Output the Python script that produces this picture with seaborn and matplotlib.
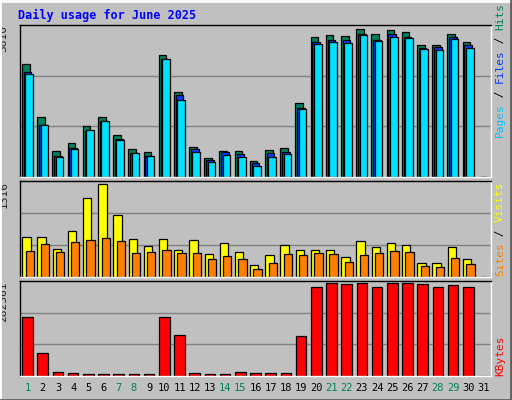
import numpy as np
import matplotlib
matplotlib.use("Agg")
import matplotlib.pyplot as plt
import seaborn as sns

days = list(range(1, 32))
hits = [2830, 1516, 662, 862, 1290, 1516, 1063, 712, 636, 3048, 2119, 762, 486, 662, 662,
        410, 687, 737, 1867, 3500, 3551, 3525, 3701, 3576, 3676, 3626, 3299, 3299, 3576, 3375, 0]
files = [2621, 1315, 519, 737, 1164, 1415, 963, 611, 536, 2948, 2043, 712, 435, 636, 586,
         360, 611, 636, 1742, 3375, 3425, 3425, 3576, 3425, 3576, 3500, 3224, 3249, 3500, 3299, 0]
pages = [2571, 1315, 494, 712, 1189, 1415, 938, 611, 536, 2948, 1918, 636, 385, 561, 511,
         285, 511, 586, 1692, 3324, 3375, 3350, 3551, 3400, 3500, 3475, 3199, 3174, 3450, 3224, 0]
sites = [554, 554, 388, 637, 1081, 1275, 845, 527, 430, 527, 374, 513, 319, 471, 346,
         166, 305, 443, 374, 374, 374, 277, 499, 416, 471, 443, 194, 194, 416, 249, 0]
visits = [360, 457, 346, 485, 513, 540, 499, 333, 346, 374, 333, 333, 249, 291, 249,
          111, 194, 319, 305, 333, 319, 208, 305, 333, 360, 346, 152, 139, 263, 180, 0]
kbytes = [175900, 67300, 13000, 10000, 7000, 7000, 7000, 7000, 7000, 175900, 121600, 10000,
          7000, 7000, 13000, 10000, 10000, 10000, 118600, 266000, 275000, 272000, 275000,
          266000, 275000, 275000, 272000, 266000, 269000, 266000, 0]
weekends = [1, 7, 8, 14, 15, 21, 22, 28, 29]
max_hits, max_sites, max_kb = 3810, 1316, 282361

sns.set_style("white")
plt.rcParams['font.family'] = ['DejaVu Sans Mono']

W, H = 512, 400
fig = plt.figure(figsize=(W / 100, H / 100), dpi=100, facecolor="#c0c0c0")
mono = "DejaVu Sans Mono"


def px_axes(x0, y0, x1, y1):
    return fig.add_axes([x0 / W, 1 - y1 / H, (x1 - x0) / W, (y1 - y0) / H])


def draw_bars(ax, vals, off, width, color):
    x = np.array(days, dtype=float) + off
    sns.barplot(x=x, y=vals, native_scale=True, width=width, color=color,
                edgecolor="black", linewidth=0.9, ax=ax, saturation=1)


def style_panel(ax, ymax, label):
    ax.set_facecolor("#c0c0c0")
    ax.set_xlim(0.5, 31.5)
    ax.set_ylim(0, ymax)
    for frac in (1 / 3, 2 / 3):
        ax.axhline(ymax * frac, color="#808080", lw=1, zorder=0)
    ax.set_xticks([])
    ax.set_yticks([])
    ax.set_xlabel("")
    ax.set_ylabel("")
    ax.spines["top"].set_color("black")
    ax.spines["left"].set_color("black")
    ax.spines["right"].set_color("white")
    ax.spines["bottom"].set_color("white")
    for s in ax.spines.values():
        s.set_linewidth(1)
    ax.text(-0.035, 1.0, label, transform=ax.transAxes, rotation=90,
            ha="center", va="top", fontsize=8, family=mono)


ax1 = px_axes(20, 25, 491, 177)
draw_bars(ax1, hits, -0.12, 0.5, "#00805c")
draw_bars(ax1, files, 0.0, 0.5, "#0040ff")
draw_bars(ax1, pages, 0.1, 0.5, "#00e0ff")
style_panel(ax1, max_hits, str(max_hits))

ax2 = px_axes(20, 181, 491, 277)
draw_bars(ax2, sites, -0.08, 0.55, "#ffff00")
draw_bars(ax2, visits, 0.14, 0.55, "#ff8000")
style_panel(ax2, max_sites, str(max_sites))

ax3 = px_axes(20, 281, 491, 376)
draw_bars(ax3, kbytes, 0.0, 0.7, "#ff0000")
style_panel(ax3, max_kb, str(max_kb))

for d in days:
    ax3.text(d, -0.13, str(d), transform=ax3.get_xaxis_transform(), ha="center",
             va="center", fontsize=7.5, family=mono,
             color="#00805c" if d in weekends else "black")

fig.text(18 / W, 1 - 15 / H, "Daily usage for June 2025", color="#0000ff",
         fontsize=8.5, fontweight="bold", family=mono, va="center")


def right_label(parts, y_bottom):
    y = y_bottom
    for txt, col in parts:
        t = fig.text(500 / W, 1 - y / H, txt, rotation=90, color=col, fontsize=8,
                     family=mono, ha="center", va="bottom")
        y -= len(txt) * 6.2 + 2


right_label([("Pages", "#00c0ff"), (" / ", "black"), ("Files", "#0040ff"),
             (" / ", "black"), ("Hits", "#00805c")], 137)
right_label([("Sites", "#ff8000"), (" / ", "black"), ("Visits", "#ffff00")], 276)
right_label([("KBytes", "#ff0000")], 376)

# bevel border
lines = [((0, 0), (0, H), "white"), ((0, W), (H - 1, H - 1), "white"),
         ((W - 1, W - 1), (0, H), "#606060"), ((0, W), (0.5, 0.5), "#606060")]
for xs, ys, c in lines:
    fig.add_artist(plt.Line2D([x / W for x in xs], [y / H for y in ys], color=c, lw=2))

fig.savefig("out.png", dpi=100, facecolor=fig.get_facecolor())
